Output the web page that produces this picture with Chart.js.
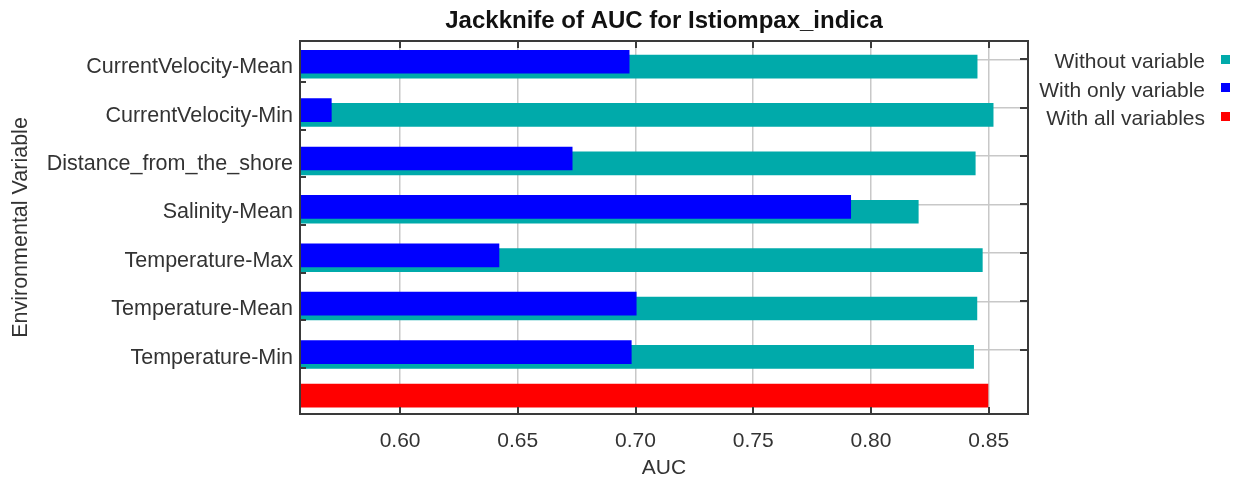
<!DOCTYPE html>
<html>
<head>
<meta charset="utf-8">
<script src="https://cdn.jsdelivr.net/npm/chart.js@4.4.0/dist/chart.umd.min.js"></script>
<style>
  html, body { margin: 0; padding: 0; background: #fff; }
  #wrap { position: relative; width: 1235px; height: 479px; overflow: hidden; }
  #c { display: block; }
  .lg-text { position: absolute; right: 30px; white-space: nowrap; font-family: "Liberation Sans", Arial, sans-serif;
             font-size: 21px; line-height: 28.5px; color: #333; }
  .lg-box { position: absolute; left: 1221px; width: 9px; height: 9px; }
</style>
</head>
<body>
<div id="wrap">
  <canvas id="c" width="1235" height="479"></canvas>
  <div id="legend"></div>
</div>
<script>
// ---- data ----
const categories = [
  "CurrentVelocity-Mean",
  "CurrentVelocity-Min",
  "Distance_from_the_shore",
  "Salinity-Mean",
  "Temperature-Max",
  "Temperature-Mean",
  "Temperature-Min"
];
const withoutVariable  = [0.8451, 0.8519, 0.8443, 0.8201, 0.8473, 0.8450, 0.8436];
const withOnlyVariable = [0.6973, 0.5708, 0.6731, 0.7914, 0.6420, 0.7003, 0.6982];
const withAllVariables = [0.8497];
const xTickValues = [0.60, 0.65, 0.70, 0.75, 0.80, 0.85];
const seriesNames = ["Without variable", "With only variable", "With all variables"];

// ---- style ----
const COLORS = ["#00AAAA", "#0000FF", "#FF0000"];
const FONT = '"Liberation Sans", Arial, sans-serif';
const OFF_WITHOUT = 0.15, OFF_ONLY = 0.05, OFF_ALL = -0.05;

const dsWithout = withoutVariable.map((v, i) => ({ x: v, y: i + OFF_WITHOUT }));
const dsOnly = withOnlyVariable.map((v, i) => ({ x: v, y: i + OFF_ONLY }));
const dsAll = withAllVariables.map((v) => ({ x: v, y: categories.length + OFF_ALL }));

const framePlugin = {
  id: 'frame',
  afterDraw(chart) {
    const { ctx, chartArea: a, scales } = chart;
    const x = scales.x, y = scales.y;
    ctx.save();
    ctx.strokeStyle = '#3a3a3a';
    ctx.lineWidth = 2;
    ctx.beginPath();
    xTickValues.forEach(v => {
      const px = Math.round(x.getPixelForValue(v));
      ctx.moveTo(px, a.top); ctx.lineTo(px, a.top + 7);
      ctx.moveTo(px, a.bottom); ctx.lineTo(px, a.bottom - 7);
    });
    categories.forEach((c, i) => {
      const pr = Math.round(y.getPixelForValue(i));
      ctx.moveTo(a.right, pr); ctx.lineTo(a.right - 8, pr);
      const pl = Math.round(y.getPixelForValue(i * 0.984 + 0.47));
      ctx.moveTo(a.left, pl); ctx.lineTo(a.left + 6, pl);
    });
    ctx.stroke();
    ctx.strokeRect(a.left, a.top, a.right - a.left, a.bottom - a.top);
    ctx.restore();
  }
};

const chart = new Chart(document.getElementById('c'), {
  type: 'bar',
  data: {
    datasets: [
      { label: seriesNames[0], data: dsWithout, backgroundColor: COLORS[0], order: 2 },
      { label: seriesNames[1], data: dsOnly, backgroundColor: COLORS[1], order: 1 },
      { label: seriesNames[2], data: dsAll, backgroundColor: COLORS[2], order: 3 }
    ]
  },
  options: {
    indexAxis: 'y',
    responsive: false,
    devicePixelRatio: 1,
    animation: false,
    datasets: { bar: { grouped: false, barThickness: 23, borderWidth: 0 } },
    layout: { padding: { left: 0, right: 207, top: 0, bottom: 0 } },
    plugins: {
      legend: { display: false },
      tooltip: { enabled: false },
      title: {
        display: true,
        text: 'Jackknife of AUC for Istiompax_indica',
        fullSize: false,
        color: '#111',
        font: { family: FONT, size: 24, weight: 'bold', lineHeight: 1 },
        padding: { top: 9, bottom: 8 }
      }
    },
    scales: {
      x: {
        type: 'linear',
        position: 'bottom',
        min: 0.5575,
        max: 0.8667,
        afterBuildTicks: s => { s.ticks = xTickValues.map(v => ({ value: v })); },
        afterFit: s => { s.height = 65; },
        ticks: {
          callback: v => Number(v).toFixed(2),
          font: { family: FONT, size: 21 },
          color: '#333',
          padding: 15,
          maxRotation: 0,
          autoSkip: false
        },
        grid: { color: '#c8c8c8', lineWidth: 1.5, drawTicks: false },
        border: { display: false },
        title: {
          display: true,
          text: 'AUC',
          color: '#333',
          font: { family: FONT, size: 21, lineHeight: 1 },
          padding: { top: 0, bottom: 0 }
        }
      },
      y: {
        type: 'linear',
        position: 'left',
        reverse: true,
        offset: false,
        min: -0.378,
        max: 7.329,
        afterBuildTicks: s => { s.ticks = categories.map((c, i) => ({ value: i })); },
        afterFit: s => { s.width = 300; },
        ticks: {
          callback: v => categories[v] !== undefined ? categories[v] : '',
          font: { family: FONT, size: 21.5 },
          color: '#333',
          padding: 7,
          labelOffset: 8,
          autoSkip: false
        },
        grid: { color: '#c8c8c8', lineWidth: 1.5, drawTicks: false, offset: false },
        border: { display: false },
        title: {
          display: true,
          text: 'Environmental Variable',
          color: '#333',
          font: { family: FONT, size: 21.5, lineHeight: 1 },
          padding: { top: 10, bottom: 0 }
        }
      }
    }
  },
  plugins: [framePlugin]
});

// ---- legend (HTML, built from the datasets) ----
const legend = document.getElementById('legend');
const rowTops = [47, 75.5, 104];
chart.data.datasets.forEach((ds, i) => {
  const t = document.createElement('div');
  t.className = 'lg-text';
  t.style.top = rowTops[i] + 'px';
  t.textContent = ds.label;
  legend.appendChild(t);
  const b = document.createElement('div');
  b.className = 'lg-box';
  b.style.top = (rowTops[i] + 7.5) + 'px';
  b.style.background = ds.backgroundColor;
  legend.appendChild(b);
});
</script>
</body>
</html>
